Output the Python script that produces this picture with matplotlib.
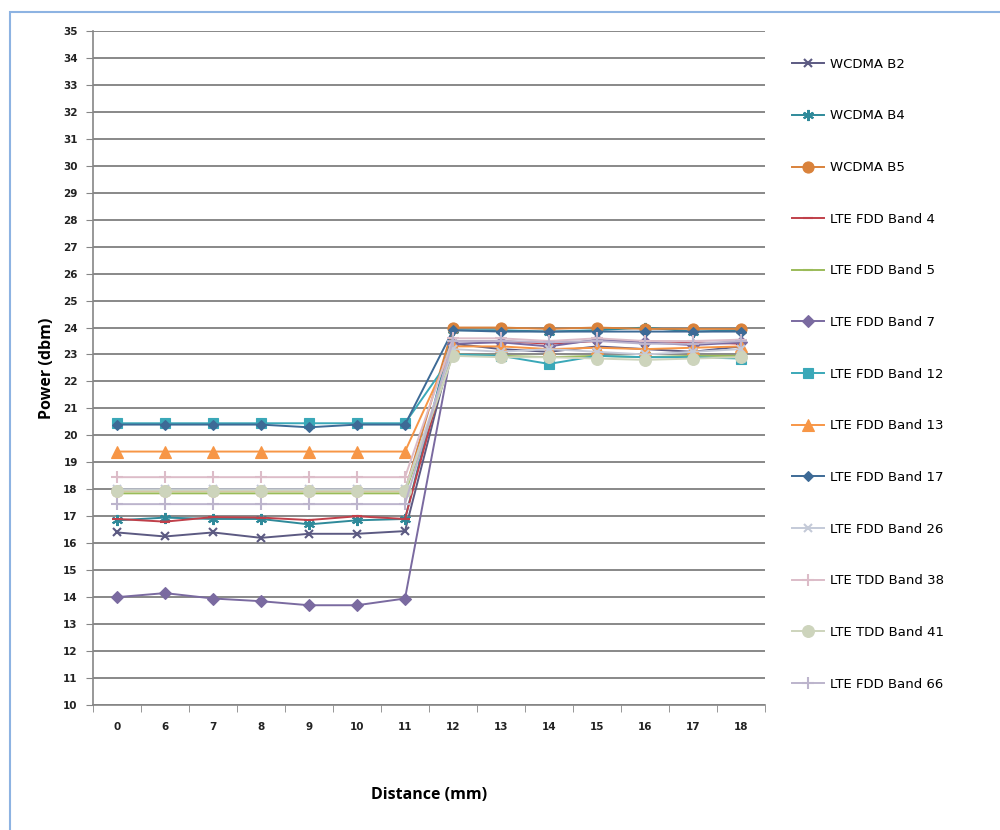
import matplotlib
matplotlib.use('Agg')
import matplotlib.pyplot as plt
from matplotlib.patches import Rectangle
import numpy as np

# distance categories (mm)
distance = ['0', '6', '7', '8', '9', '10', '11', '12', '13', '14', '15', '16', '17', '18']

wcdma_b2 = [16.4, 16.25, 16.4, 16.2, 16.35, 16.35, 16.45, 23.4, 23.2, 23.1, 23.3, 23.2, 23.1, 23.3]
wcdma_b4 = [16.85, 16.95, 16.9, 16.9, 16.7, 16.85, 16.9, 23.9, 23.9, 23.85, 23.9, 24.0, 23.85, 23.9]
wcdma_b5 = [17.95, 17.95, 17.95, 17.95, 17.95, 17.95, 17.95, 24.0, 24.0, 23.95, 24.0, 23.95, 23.95, 23.95]
lte_b4 = [16.9, 16.8, 16.97, 16.95, 16.86, 17.0, 16.9, 23.5, 23.5, 23.4, 23.5, 23.5, 23.45, 23.4]
lte_b5 = [17.85, 17.85, 17.85, 17.85, 17.85, 17.85, 17.85, 23.0, 22.95, 22.9, 22.95, 22.9, 22.95, 22.95]
lte_b7 = [14.0, 14.15, 13.95, 13.85, 13.7, 13.7, 13.95, 23.4, 23.45, 23.3, 23.55, 23.45, 23.35, 23.45]
lte_b12 = [20.45, 20.45, 20.45, 20.45, 20.45, 20.45, 20.45, 23.0, 22.95, 22.65, 22.95, 22.9, 22.9, 22.85]
lte_b13 = [19.4, 19.4, 19.4, 19.4, 19.4, 19.4, 19.4, 23.3, 23.3, 23.2, 23.25, 23.2, 23.25, 23.3]
lte_b17 = [20.4, 20.4, 20.4, 20.4, 20.3, 20.4, 20.4, 23.9, 23.85, 23.85, 23.85, 23.85, 23.85, 23.85]
lte_b26 = [18.0, 18.0, 18.0, 18.0, 18.0, 18.0, 18.0, 23.2, 23.1, 23.2, 23.1, 23.0, 23.1, 23.2]
tdd_b38 = [18.45, 18.45, 18.45, 18.45, 18.45, 18.45, 18.45, 23.6, 23.6, 23.5, 23.6, 23.5, 23.5, 23.55]
tdd_b41 = [17.95, 17.95, 17.95, 17.95, 17.95, 17.95, 17.95, 22.95, 22.9, 22.9, 22.85, 22.8, 22.85, 22.9]
lte_b66 = [17.45, 17.45, 17.45, 17.45, 17.45, 17.45, 17.45, 23.5, 23.5, 23.45, 23.5, 23.4, 23.4, 23.5]

series = [
    ('WCDMA B2', wcdma_b2, '#5c5a82', 'x', 6),
    ('WCDMA B4', wcdma_b4, '#2f8a9a', (6, 2, 0), 8),
    ('WCDMA B5', wcdma_b5, '#d9823b', 'o', 8),
    ('LTE FDD Band 4', lte_b4, '#c0404a', '_', 7),
    ('LTE FDD Band 5', lte_b5, '#9bbb59', '_', 7),
    ('LTE FDD Band 7', lte_b7, '#7a6aa0', 'D', 6),
    ('LTE FDD Band 12', lte_b12, '#3aa8b8', 's', 7),
    ('LTE FDD Band 13', lte_b13, '#f79646', '^', 8),
    ('LTE FDD Band 17', lte_b17, '#3d6a96', 'D', 5),
    ('LTE FDD Band 26', lte_b26, '#c4cad8', 'x', 6),
    ('LTE TDD Band 38', tdd_b38, '#dcbcc8', '+', 8),
    ('LTE TDD Band 41', tdd_b41, '#cdd4bc', 'o', 8.5),
    ('LTE FDD Band 66', lte_b66, '#bcb4cc', '+', 8),
]

fig = plt.figure(figsize=(10, 8.3), dpi=100)
fig.patch.set_facecolor('white')

# chart frame
fig.patches.append(Rectangle((0.010, -0.02), 1.0, 1.005, transform=fig.transFigure,
                             fill=False, edgecolor='#8db3e2', linewidth=1.5))

ax = fig.add_axes([0.093, 0.1506, 0.672, 0.8121])
x = np.arange(len(distance))

for name, vals, color, marker, ms in series:
    ax.plot(x, vals, color=color, marker=marker, markersize=ms, linewidth=1.4,
            markeredgewidth=1.5 if marker in ('x', '+', '_', (6, 2, 0)) else 0.8,
            markeredgecolor=color, label=name)

ax.set_xlim(-0.5, len(distance) - 0.5)
ax.set_ylim(10, 35)
ax.set_yticks(np.arange(10, 36, 1))
ax.set_xticks(x)
ax.set_xticklabels(distance)
ax.set_xticks(np.arange(-0.5, len(distance), 1), minor=True)
ax.tick_params(axis='x', which='major', length=0, pad=12, labelsize=7.5, colors='#222222')
ax.tick_params(axis='x', which='minor', length=5, color='#868686', direction='out')
ax.tick_params(axis='y', length=5, color='#868686', labelsize=7.5, colors='#222222', pad=6)
for lab in ax.get_xticklabels() + ax.get_yticklabels():
    lab.set_fontweight('bold')

ax.grid(axis='y', color='#7f7f7f', linewidth=1.3)
ax.set_axisbelow(True)
for side in ('top', 'right'):
    ax.spines[side].set_visible(False)
for side in ('left', 'bottom'):
    ax.spines[side].set_color('#868686')
    ax.spines[side].set_linewidth(1.2)

ax.set_ylabel('Power (dbm)', fontsize=11.5, fontweight='bold', family='Open Sans', labelpad=6)
ax.set_xlabel('Distance (mm)', fontsize=11.5, fontweight='bold', family='Open Sans', labelpad=40)

ax.legend(loc='upper left', bbox_to_anchor=(1.033, 0.968), frameon=False,
          fontsize=9.5, labelspacing=2.93, handlelength=2.4, handletextpad=0.45,
          borderaxespad=0)

fig.savefig('out.png', dpi=100)
